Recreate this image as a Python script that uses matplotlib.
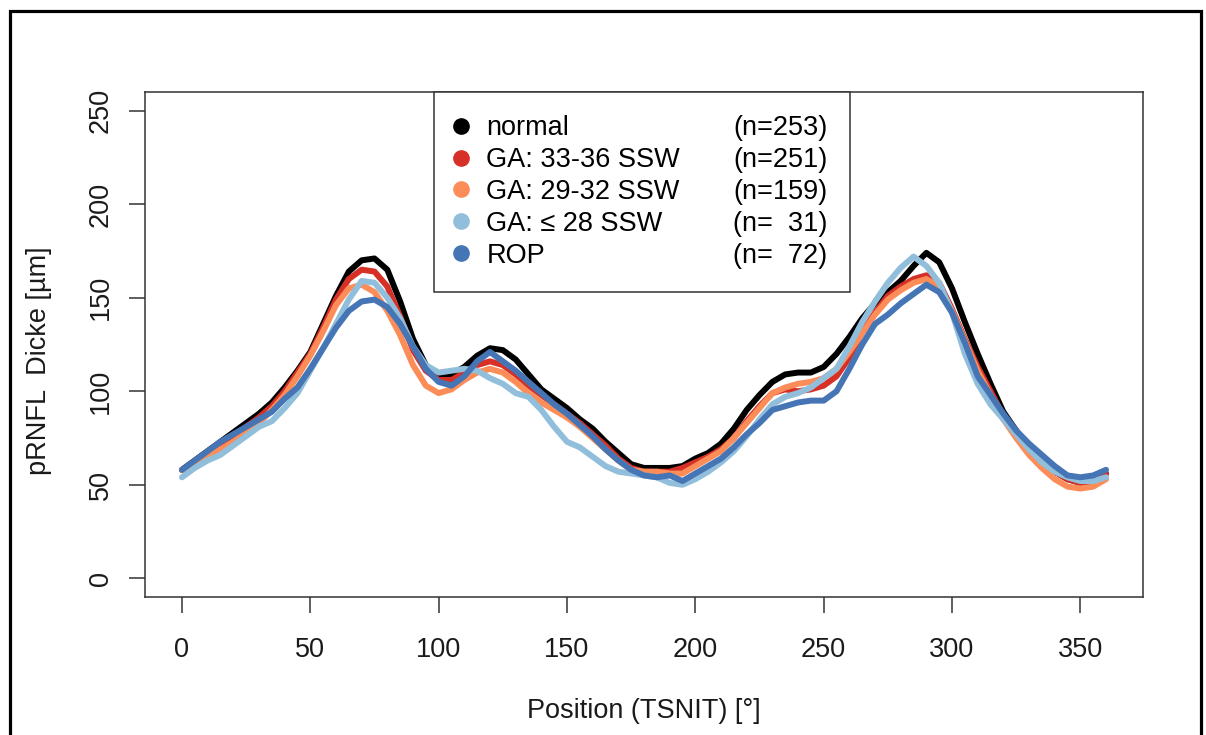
import numpy as np
import matplotlib
matplotlib.use('Agg')
import matplotlib.pyplot as plt
from matplotlib.lines import Line2D
from matplotlib.patches import Rectangle

plt.rcParams['font.family'] = ['Liberation Sans', 'DejaVu Sans']

# TSNIT position in degrees, values read every 5 degrees
position = np.arange(0, 361, 5)

normal = [58, 63, 68, 73, 78, 83, 88, 94, 102, 111,
          121, 136, 151, 164, 170, 171, 165, 148, 128, 114,
          108, 109, 113, 119, 123, 122, 117, 109, 101, 96,
          91, 85, 80, 73, 67, 61, 59, 59, 59, 60,
          64, 67, 72, 80, 90, 98, 105, 109, 110, 110,
          113, 120, 129, 139, 147, 153, 159, 167, 174, 169,
          155, 137, 120, 104, 89, 79, 70, 62, 57, 53,
          51, 52, 56]

ga_33_36 = [58, 62, 66, 71, 76, 81, 86, 92, 100, 110,
            120, 134, 149, 160, 165, 164, 156, 140, 122, 111,
            106, 106, 110, 114, 116, 114, 109, 103, 98, 93,
            88, 83, 77, 71, 64, 59, 57, 57, 57, 59,
            62, 65, 69, 75, 84, 92, 99, 101, 100, 101,
            103, 108, 118, 132, 142, 151, 156, 160, 162, 158,
            144, 128, 113, 100, 87, 78, 70, 63, 57, 53,
            51, 52, 56]

ga_29_32 = [58, 61, 65, 69, 73, 78, 83, 90, 98, 108,
            119, 132, 146, 155, 157, 153, 143, 130, 114, 103,
            99, 101, 106, 110, 112, 110, 105, 99, 94, 90,
            86, 81, 75, 69, 63, 58, 57, 57, 56, 56,
            60, 64, 68, 75, 83, 91, 99, 102, 104, 105,
            107, 112, 121, 131, 141, 149, 154, 158, 160, 156,
            143, 127, 111, 98, 85, 75, 66, 59, 53, 49,
            48, 49, 53]

ga_le_28 = [54, 59, 63, 66, 71, 76, 81, 84, 91, 99,
            111, 123, 136, 149, 159, 158, 150, 139, 124, 114,
            110, 111, 112, 111, 107, 104, 99, 97, 90, 81,
            73, 70, 65, 60, 57, 56, 55, 54, 51, 50,
            53, 57, 62, 68, 76, 85, 93, 97, 99, 102,
            107, 112, 124, 137, 148, 158, 166, 172, 167, 158,
            142, 120, 104, 93, 85, 77, 69, 62, 57, 54,
            52, 52, 54]

rop = [58, 63, 68, 73, 77, 81, 85, 89, 96, 102,
       112, 123, 134, 143, 148, 149, 145, 136, 124, 112,
       105, 103, 108, 116, 121, 116, 111, 105, 99, 93,
       88, 82, 76, 69, 63, 58, 55, 54, 55, 52,
       56, 60, 64, 70, 77, 83, 90, 92, 94, 95,
       95, 100, 112, 125, 136, 141, 147, 152, 157, 153,
       142, 126, 108, 98, 88, 79, 72, 66, 60, 55,
       54, 55, 58]

groups = ['normal', 'GA: 33-36 SSW', 'GA: 29-32 SSW', 'GA: \u2264 28 SSW', 'ROP']
n_labels = ['(n=253)', '(n=251)', '(n=159)', '(n=  31)', '(n=  72)']
colors = ['#000000', '#d73027', '#fc8d59', '#91bfdb', '#4575b4']
series = [normal, ga_33_36, ga_29_32, ga_le_28, rop]

fs = 19.5
axis_col = '#333333'

fig = plt.figure(figsize=(12.06, 7.35), dpi=100)
ax = fig.add_axes([145 / 1206, 138 / 735, 998 / 1206, 505 / 735])

for vals, col in zip(series, colors):
    ax.plot(position, vals, color=col, linewidth=4.3,
            solid_capstyle='round', solid_joinstyle='round')

ax.set_xlim(-14.4, 374.4)
ax.set_ylim(-10, 260)
ax.set_xticks(range(0, 351, 50))
ax.set_yticks(range(0, 251, 50))
for s in ax.spines.values():
    s.set_color(axis_col)
    s.set_linewidth(1.1)
ax.tick_params(axis='both', length=11.5, width=1.1, color=axis_col,
               labelsize=fs, labelcolor='#1a1a1a')
ax.tick_params(axis='x', pad=17.5)
ax.tick_params(axis='y', pad=11)
for lab in ax.get_yticklabels():
    lab.set_rotation(90)
    lab.set_va('center')

ax.set_xlabel('Position (TSNIT) [\u00b0]', fontsize=fs, color='#1a1a1a')
ax.xaxis.set_label_coords(0.5, -0.2)
ax.set_ylabel('pRNFL  Dicke [\u00b5m]', fontsize=fs, color='#1a1a1a')
ax.yaxis.set_label_coords(-0.093, 0.467)

# legend: group names with dots, second column with sample sizes
handles = [Line2D([], [], marker='o', linestyle='None', markersize=11,
                  color=c) for c in colors]
blanks = [Line2D([], [], linestyle='None') for _ in colors]
leg = ax.legend(handles + blanks, groups + n_labels, ncol=2,
                loc='upper center', bbox_to_anchor=(0.498, 1.0),
                borderaxespad=0, fontsize=fs, handlelength=0.35,
                handletextpad=0.75, columnspacing=0.85, borderpad=0.85,
                labelspacing=0.22, fancybox=False, framealpha=1,
                edgecolor=axis_col)
leg.get_frame().set_linewidth(1.1)

# outer frame of the figure
fig.add_artist(Rectangle((9.5 / 1206, -0.1), 1191.5 / 1206, 0.1 + 724 / 735,
                         transform=fig.transFigure, fill=False,
                         linewidth=2.3, edgecolor='black'))

fig.savefig('out.png', dpi=100)
